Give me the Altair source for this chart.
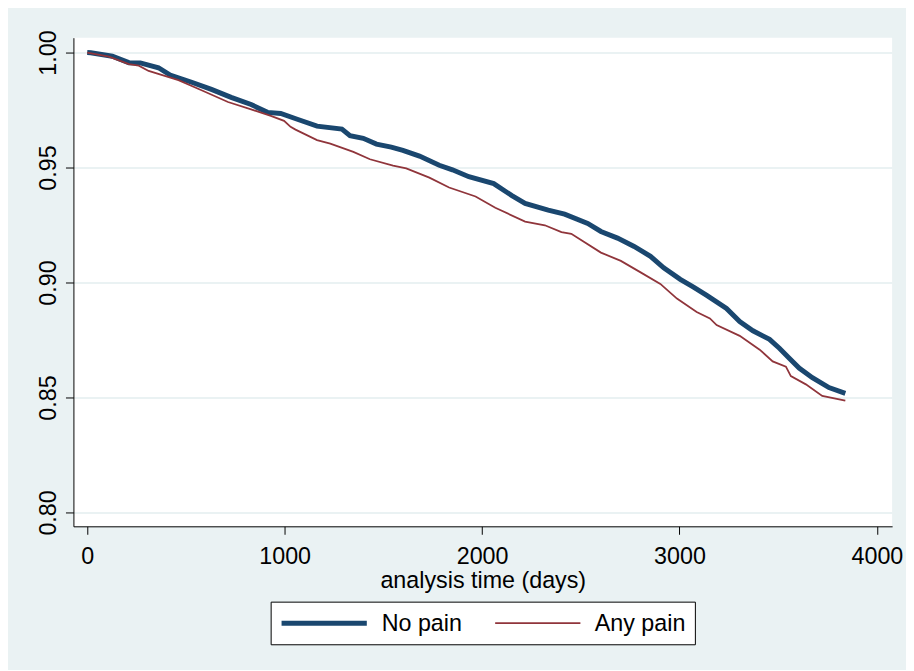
import altair as alt
import pandas as pd

series_names = ["No pain", "Any pain"]
x_ticks = [0, 1000, 2000, 3000, 4000]
y_ticks = [0.80, 0.85, 0.90, 0.95, 1.00]

nopain_days = [0, 18, 127, 211, 269, 361, 420, 529, 629, 729, 830, 913, 980, 1064,
               1164, 1290, 1331, 1398, 1465, 1540, 1599, 1683, 1783, 1850, 1933,
               2059, 2151, 2218, 2335, 2418, 2535, 2602, 2686, 2770, 2853, 2920,
               3004, 3071, 3138, 3238, 3305, 3372, 3456, 3506, 3556, 3606, 3673,
               3757, 3840]
nopain_surv = [1.000, 0.9999, 0.9984, 0.9956, 0.9955, 0.9934, 0.9902, 0.9871, 0.9840,
               0.9805, 0.9774, 0.9740, 0.9735, 0.9710, 0.9680, 0.9667, 0.9639, 0.9627,
               0.9602, 0.9589, 0.9575, 0.9550, 0.9510, 0.9490, 0.9460, 0.9430, 0.9378,
               0.9344, 0.9315, 0.9297, 0.9257, 0.9222, 0.9193, 0.9157, 0.9114, 0.9064,
               0.9014, 0.8980, 0.8944, 0.8887, 0.8830, 0.8790, 0.8753, 0.8714, 0.8671,
               0.8628, 0.8586, 0.8543, 0.8518]

anypain_days = [0, 110, 211, 261, 311, 462, 579, 713, 830, 930, 997, 1030, 1055, 1164,
                1231, 1348, 1432, 1549, 1616, 1733, 1833, 1967, 2067, 2218, 2318, 2402,
                2452, 2602, 2703, 2803, 2903, 2987, 3087, 3154, 3188, 3305, 3406, 3472,
                3539, 3564, 3640, 3723, 3840]
anypain_surv = [1.000, 0.9982, 0.9950, 0.9943, 0.9920, 0.9880, 0.9836, 0.9785, 0.9753,
                0.9725, 0.9703, 0.9677, 0.9665, 0.9619, 0.9604, 0.9568, 0.9536, 0.9508,
                0.9496, 0.9456, 0.9413, 0.9374, 0.9325, 0.9265, 0.9249, 0.9219, 0.9212,
                0.9130, 0.9094, 0.9044, 0.8994, 0.8930, 0.8872, 0.8844, 0.8815, 0.8768,
                0.8708, 0.8657, 0.8634, 0.8593, 0.8557, 0.8507, 0.8486]

df = pd.concat([
    pd.DataFrame({"t": nopain_days, "s": nopain_surv, "g": series_names[0]}),
    pd.DataFrame({"t": anypain_days, "s": anypain_surv, "g": series_names[1]}),
], ignore_index=True)
legend_df = pd.DataFrame({"g": series_names})

FONT = "Liberation Sans"
FS = 23.5
BG = "#EAF2F3"

color_scale = alt.Scale(domain=series_names, range=["#1A476F", "#90353B"])
width_scale = alt.Scale(domain=series_names, range=[5, 1.8])

lines = alt.Chart(df).mark_line(clip=True, interpolate="linear").encode(
    x=alt.X("t:Q",
            scale=alt.Scale(domain=[-70, 4077], nice=False, zero=False),
            axis=alt.Axis(values=x_ticks, format="d", title="analysis time (days)",
                          grid=False, tickSize=8, labelPadding=10,
                          titleBaseline="alphabetic", titleY=62)),
    y=alt.Y("s:Q",
            scale=alt.Scale(domain=[0.79397, 1.00647], nice=False, zero=False),
            axis=alt.Axis(values=y_ticks, format=".2f", title=None, grid=True,
                          labelAngle=270, labelAlign="center", labelBaseline="bottom",
                          tickSize=8, labelPadding=5)),
    color=alt.Color("g:N", scale=color_scale, legend=None),
    strokeWidth=alt.StrokeWidth("g:N", scale=width_scale, legend=None),
    order=alt.Order("t:Q"),
)

# legend box (positions in plot-area pixels)
box = alt.Chart(pd.DataFrame({"b": [0]})).mark_rect(
    fill="white", stroke="black", strokeWidth=1
).encode(x=alt.value(199.5), x2=alt.value(627.5), y=alt.value(569.5), y2=alt.value(612.5))

entry_layers = []
sym_x = [(210, 296), (425.5, 511.5)]
txt_x = [311, 526]
for name, (sx0, sx1), tx in zip(series_names, sym_x, txt_x):
    base = alt.Chart(legend_df).transform_filter(alt.datum.g == name)
    entry_layers.append(base.mark_rule().encode(
        x=alt.value(sx0), x2=alt.value(sx1), y=alt.value(590.7),
        color=alt.Color("g:N", scale=color_scale, legend=None),
        strokeWidth=alt.StrokeWidth("g:N", scale=width_scale, legend=None),
    ))
    entry_layers.append(base.mark_text(
        align="left", baseline="alphabetic", font=FONT, fontSize=FS, color="black"
    ).encode(x=alt.value(tx), y=alt.value(599), text="g:N"))

chart = alt.layer(lines, box, *entry_layers).properties(
    width=826, height=493,
    autosize=alt.AutoSizeParams(type="none"),
    padding={"left": 66, "top": 27, "right": 14, "bottom": 142},
    background=BG,
).configure_view(
    fill="white", stroke=None,
).configure_axis(
    labelFont=FONT, titleFont=FONT, labelFontSize=FS, titleFontSize=FS,
    titleFontWeight="normal", labelColor="black", titleColor="black",
    domainColor="black", tickColor="black", domainWidth=1, tickWidth=1,
    gridColor=BG, gridWidth=2,
)

chart.save("out.html", embed_options={"renderer": "svg", "actions": False})
